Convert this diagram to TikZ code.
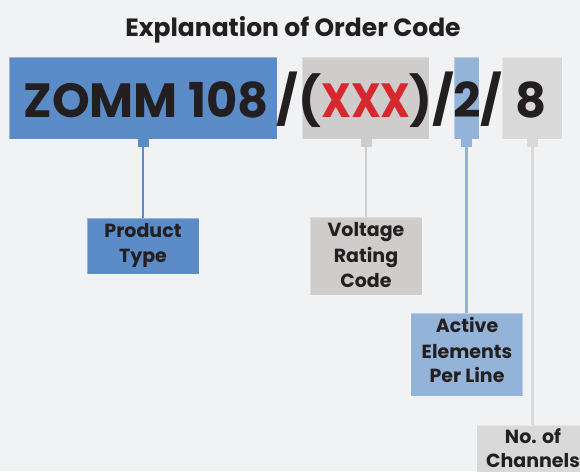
\documentclass[tikz,border=0pt]{standalone}
\usepackage{graphicx}
\usepackage{fontspec}
\setmainfont{Poppins}
\definecolor{bg}{HTML}{F1F2F4}
\definecolor{blueA}{HTML}{5B8CC8}
\definecolor{grayA}{HTML}{CFCDCB}
\definecolor{blueB}{HTML}{94B3D8}
\definecolor{grayB}{HTML}{D9D9D9}
\definecolor{redA}{HTML}{D7282F}
\definecolor{ink}{HTML}{231F20}
\begin{document}
\begin{tikzpicture}[x=1pt,y=-1pt,
  box/.style={rectangle,inner sep=0pt,outer sep=0pt,draw=white,draw opacity=0.35,line width=0.8pt},
  stub/.style={rectangle,inner sep=0pt,outer sep=0pt,minimum width=11pt,minimum height=8pt},
  conn/.style={line width=2.6pt},
  codetxt/.style={anchor=base,inner sep=0pt,text=ink,font=\fontsize{48}{48}\selectfont\bfseries},
  lbltxt/.style={anchor=base,inner sep=0pt,text=ink,font=\fontsize{19}{19}\selectfont\bfseries},
  titletxt/.style={anchor=base,inner sep=0pt,text=ink,font=\fontsize{25}{25}\selectfont\bfseries}]
\useasboundingbox (0,0) rectangle (580,471);
\fill[bg] (0,0) rectangle (580,471);
\clip (0,0) rectangle (580,471);
% title
\node[titletxt] (title) at (293,36) {Explanation of Order Code};
% code boxes
\node[box,fill=blueA,minimum width=268pt,minimum height=82pt] (bA) at (143,98) {};
\node[box,fill=grayA,minimum width=127pt,minimum height=82pt] (bB) at (365.5,98) {};
\node[box,fill=blueB,minimum width=25pt,minimum height=82pt] (bC) at (466.5,98) {};
\node[box,fill=grayB,minimum width=60pt,minimum height=82pt] (bD) at (532,98) {};
% code text
\node[codetxt] (tA) at (146,117) {ZOMM 108};
\node[codetxt] (tB) at (299,117) {/(};
\node[codetxt,text=redA] (tC) at (366,117) {\scalebox{0.87}[1]{XXX}};
\node[codetxt] (tD) at (432,117) {)/};
\node[codetxt] (tE) at (467,117) {2};
\node[codetxt] (tF) at (491,117) {/};
\node[codetxt] (tG) at (531,117) {8};
% stubs
\node[stub,fill=blueA] (sA) at (143,143) {};
\node[stub,fill=grayA] (sB) at (366,143) {};
\node[stub,fill=blueB] (sC) at (466.5,143) {};
\node[stub,fill=grayB] (sD) at (532.5,143) {};
% label boxes
\node[box,fill=blueA,minimum width=112pt,minimum height=56pt] (lA) at (143,246) {};
\node[box,fill=grayA,minimum width=112pt,minimum height=78pt] (lB) at (366,256) {};
\node[box,fill=blueB,minimum width=112pt,minimum height=83pt] (lC) at (466.5,354.5) {};
\node[box,fill=grayB,minimum width=112pt,minimum height=80pt] (lD) at (532.5,465) {};
% connectors
\draw[conn,blueA] (sA.south) -- (lA.north);
\draw[conn,grayA] (sB.south) -- (lB.north);
\draw[conn,blueB] (sC.south) -- (lC.north);
\draw[conn,grayB] (sD.south) -- (lD.north);
% label texts
\node[lbltxt] (pa1) at (143,237) {Product};
\node[lbltxt] (pa2) at (143,262) {Type};
\node[lbltxt] (pb1) at (366,236) {Voltage};
\node[lbltxt] (pb2) at (366,262) {Rating};
\node[lbltxt] (pb3) at (366,287) {Code};
\node[lbltxt] (pc1) at (467,332) {Active};
\node[lbltxt] (pc2) at (467,358) {Elements};
\node[lbltxt] (pc3) at (467,382) {Per Line};
\node[lbltxt] (pd1) at (533,443) {No. of};
\node[lbltxt] (pd2) at (533,467) {Channels};
\end{tikzpicture}
\end{document}
